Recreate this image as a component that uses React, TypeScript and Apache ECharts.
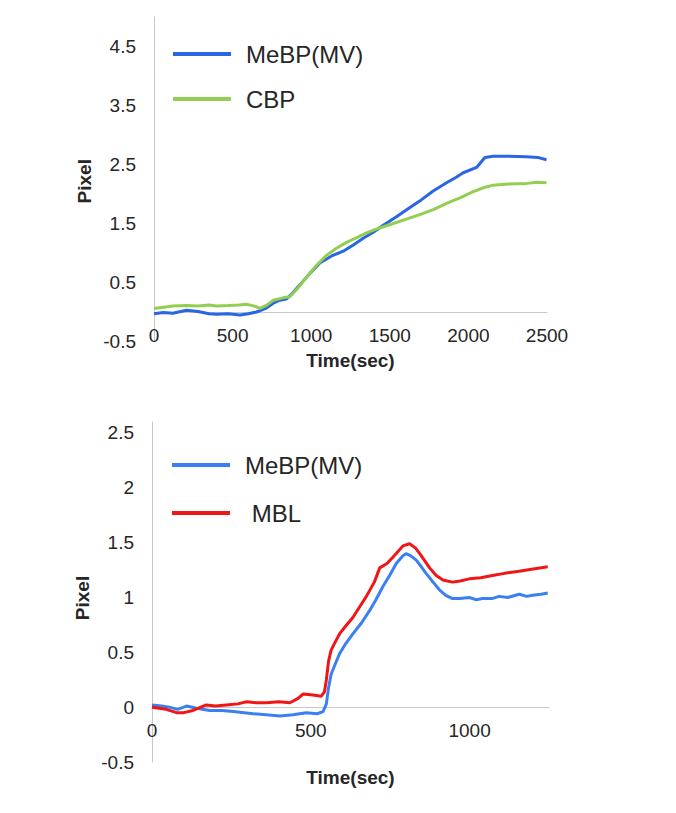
import React, { useEffect, useRef } from "react";
import * as echarts from "echarts";

// ---- Top chart data (Time in sec, Pixel) ----
const topTime = [0, 60, 120, 207, 280, 350, 398, 470, 547, 600, 653, 710, 759, 800, 843, 885, 928, 990, 1055, 1130, 1204, 1270, 1331, 1400, 1458, 1540, 1628, 1700, 1776, 1861, 1920, 1967, 2052, 2105, 2158, 2250, 2370, 2440, 2497];
const topMeBP = [-0.03, -0.01, -0.02, 0.03, 0.01, -0.03, -0.04, -0.03, -0.05, -0.03, 0.0, 0.06, 0.15, 0.2, 0.22, 0.33, 0.46, 0.65, 0.83, 0.95, 1.03, 1.14, 1.25, 1.36, 1.47, 1.61, 1.77, 1.9, 2.05, 2.19, 2.28, 2.36, 2.45, 2.62, 2.64, 2.64, 2.63, 2.62, 2.58];
const topCBPTime = [0, 60, 120, 207, 280, 350, 398, 470, 540, 589, 640, 674, 720, 759, 820, 864, 920, 970, 1030, 1097, 1160, 1225, 1290, 1352, 1430, 1522, 1600, 1691, 1780, 1861, 1950, 2031, 2100, 2158, 2250, 2370, 2440, 2497];
const topCBP = [0.06, 0.08, 0.1, 0.11, 0.1, 0.12, 0.1, 0.11, 0.12, 0.13, 0.1, 0.06, 0.12, 0.2, 0.24, 0.26, 0.42, 0.59, 0.78, 0.96, 1.08, 1.18, 1.26, 1.34, 1.42, 1.5, 1.57, 1.65, 1.74, 1.84, 1.94, 2.04, 2.11, 2.15, 2.17, 2.18, 2.2, 2.19];

// ---- Bottom chart data ----
const botTime = [0, 30, 55, 80, 109, 140, 182, 220, 256, 290, 319, 360, 403, 444, 486, 520, 539, 549, 556, 564, 578, 591, 610, 633, 660, 685, 705, 727, 750, 769, 790, 800, 815, 832, 848, 863, 885, 905, 925, 946, 970, 999, 1020, 1041, 1070, 1093, 1120, 1156, 1180, 1198, 1225, 1246];
const botMeBP = [0.02, 0.01, 0.0, -0.02, 0.01, -0.01, -0.03, -0.03, -0.04, -0.05, -0.06, -0.07, -0.08, -0.07, -0.05, -0.06, -0.04, 0.03, 0.18, 0.3, 0.4, 0.49, 0.58, 0.67, 0.77, 0.88, 0.98, 1.1, 1.21, 1.31, 1.38, 1.4, 1.38, 1.34, 1.28, 1.22, 1.14, 1.07, 1.02, 0.99, 0.99, 1.0, 0.98, 0.99, 0.99, 1.01, 1.0, 1.03, 1.01, 1.02, 1.03, 1.04];
const botMBLTime = [0, 45, 77, 100, 129, 171, 200, 234, 270, 298, 330, 361, 400, 434, 460, 476, 507, 533, 543, 549, 556, 564, 578, 591, 610, 633, 655, 675, 700, 717, 740, 759, 790, 811, 830, 843, 860, 874, 895, 916, 946, 970, 999, 1035, 1072, 1110, 1156, 1200, 1246];
const botMBL = [0.0, -0.02, -0.05, -0.05, -0.03, 0.02, 0.01, 0.02, 0.03, 0.05, 0.04, 0.04, 0.05, 0.04, 0.08, 0.12, 0.11, 0.1, 0.14, 0.25, 0.42, 0.52, 0.6, 0.67, 0.74, 0.82, 0.92, 1.01, 1.14, 1.27, 1.31, 1.37, 1.47, 1.49, 1.45, 1.4, 1.33, 1.27, 1.2, 1.16, 1.14, 1.15, 1.17, 1.18, 1.2, 1.22, 1.24, 1.26, 1.28];

const topXTicks = [0, 500, 1000, 1500, 2000, 2500];

const FONT = "'Liberation Sans', Arial, sans-serif";
const TEXT = "#262626";
const AXIS = "#c8c8c8";

function pairs(xs: number[], ys: number[]) {
  return xs.map((x, i) => [x, ys[i]]);
}

function baseOption(cfg: any) {
  return {
    animation: false,
    legend: {
      orient: "vertical",
      left: cfg.legendLeft,
      top: cfg.legendTop,
      padding: 0,
      itemGap: cfg.legendGap,
      itemWidth: 58,
      itemHeight: 4,
      icon: "rect",
      formatter: cfg.legendFormatter,
      textStyle: { fontFamily: FONT, fontSize: 24, color: TEXT, lineHeight: 24, padding: [0, 0, 0, 10] },
      data: cfg.series.map((s: any) => s.name),
    },
    grid: {
      left: cfg.gridLeft,
      top: cfg.gridTop,
      width: cfg.gridWidth,
      height: cfg.gridHeight,
      outerBoundsMode: "none",
      containLabel: false,
    },
    xAxis: {
      type: "value",
      min: 0,
      max: cfg.xMax,
      interval: cfg.xInterval,
      name: "Time(sec)",
      nameLocation: "middle",
      nameGap: cfg.xNameGap,
      nameMoveOverlap: false,
      nameTextStyle: { fontFamily: FONT, fontSize: 19, fontWeight: "bold", color: TEXT },
      axisLine: { show: true, onZero: true, lineStyle: { color: AXIS, width: 1 } },
      axisTick: { show: false },
      splitLine: { show: false },
      axisLabel: {
        fontFamily: FONT,
        fontSize: 19,
        color: TEXT,
        margin: cfg.xLabelMargin,
        showMaxLabel: cfg.xShowMax,
        formatter: (v: number) => String(v),
      },
    },
    yAxis: {
      type: "value",
      min: cfg.yMin,
      max: cfg.yMax,
      interval: cfg.yInterval,
      name: "Pixel",
      nameLocation: "middle",
      nameGap: 60,
      nameRotate: 90,
      nameMoveOverlap: false,
      nameTextStyle: { fontFamily: FONT, fontSize: 19, fontWeight: "bold", color: TEXT, padding: cfg.yNamePadding },
      axisLine: { show: true, lineStyle: { color: AXIS, width: 1 } },
      axisTick: { show: false },
      splitLine: { show: false },
      axisLabel: { fontFamily: FONT, fontSize: 19, color: TEXT, margin: 18, showMaxLabel: false },
    },
    series: cfg.series.map((s: any) => ({
      type: "line",
      name: s.name,
      data: s.data,
      symbol: "none",
      showSymbol: false,
      color: s.color,
      lineStyle: { color: s.color, width: 3 },
      z: s.z,
    })),
  };
}

export default function App() {
  const topRef = useRef<HTMLDivElement>(null);
  const botRef = useRef<HTMLDivElement>(null);

  useEffect(() => {
    const c1 = echarts.init(topRef.current!, undefined, { renderer: "svg" });
    const c2 = echarts.init(botRef.current!, undefined, { renderer: "svg" });

    c1.setOption(
      baseOption({
        legendLeft: 173,
        legendTop: 42,
        legendGap: 21,
        gridLeft: 154,
        gridTop: 17,
        gridWidth: 393,
        gridHeight: 324.5,
        xMax: topXTicks[topXTicks.length - 1],
        xInterval: 500,
        xShowMax: true,
        xNameGap: 9,
        xLabelMargin: -16,
        yMin: -0.5,
        yMax: 5,
        yInterval: 1,
        yNamePadding: [0, 4, 0, 0],
        series: [
          { name: "MeBP(MV)", data: pairs(topTime, topMeBP), color: "#2A66E4", z: 2 },
          { name: "CBP", data: pairs(topCBPTime, topCBP), color: "#92CF50", z: 3 },
        ],
      })
    );

    c2.setOption(
      baseOption({
        legendLeft: 172,
        legendTop: 53,
        legendGap: 24,
        legendFormatter: (n: string) => (n === "MBL" ? " MBL" : n),
        gridLeft: 152,
        gridTop: 22,
        gridWidth: 397,
        gridHeight: 340,
        xMax: 1250,
        xInterval: 500,
        xShowMax: false,
        xNameGap: 5.5,
        xLabelMargin: -41.5,
        yMin: -0.5,
        yMax: 2.6,
        yInterval: 0.5,
        yNamePadding: [0, 12, 0, 0],
        series: [
          { name: "MeBP(MV)", data: pairs(botTime, botMeBP), color: "#3A80F2", z: 2 },
          { name: "MBL", data: pairs(botMBLTime, botMBL), color: "#F01616", z: 3 },
        ],
      })
    );

    return () => {
      c1.dispose();
      c2.dispose();
    };
  }, []);

  return (
    <div style={{ position: "absolute", left: 0, top: 0, width: 676, height: 813, background: "#fff" }}>
      <div ref={topRef} style={{ position: "absolute", left: 0, top: 0, width: 676, height: 400 }} />
      <div ref={botRef} style={{ position: "absolute", left: 0, top: 400, width: 676, height: 413 }} />
    </div>
  );
}
